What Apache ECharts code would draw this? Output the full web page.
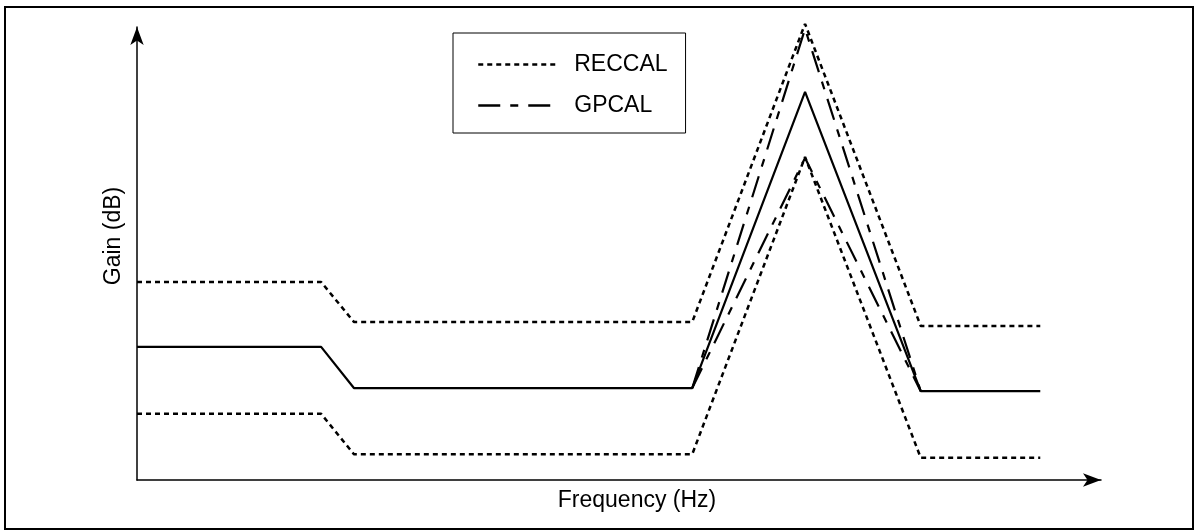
<!DOCTYPE html>
<html>
<head>
<meta charset="utf-8">
<title>Gain vs Frequency</title>
<script src="https://cdn.jsdelivr.net/npm/echarts@6/dist/echarts.min.js"></script>
<style>
	html, body { margin: 0; padding: 0; background: #fff; }
	#main { width: 1198px; height: 531px; }
</style>
</head>
<body>
<div id="main"></div>
<script>
	// break points along the frequency axis (arbitrary units, 0..100)
	var freq = [0, 19.1, 22.5, 57.6, 69.3, 81.3, 93.7];
	// nominal response (solid)
	var nominalGain = [29.4, 29.4, 20.3, 20.3, 85.7, 19.6, 19.6];
	// RECCAL tolerance limits (dotted)
	var reccalUpper = [43.7, 43.7, 34.9, 34.9, 100.7, 34.0, 34.0];
	var reccalLower = [14.6, 14.6, 5.7, 5.7, 71.3, 4.9, 4.9];
	// GPCAL limits only around the peak (dash-dot)
	var gpcalFreq = [57.6, 69.3, 81.3];
	var gpcalUpper = [20.3, 99.6, 19.6];
	var gpcalLower = [20.3, 71.1, 19.6];

	var font = "'Liberation Sans', Arial, sans-serif";
	var dotted = [5, 4];
	var dashDot = [22, 10, 8, 10];

	function pairs(xs, ys) {
		return xs.map(function (x, i) { return [x, ys[i]]; });
	}

	function line(name, xs, ys, type, width) {
		return {
			name: name,
			type: 'line',
			data: pairs(xs, ys),
			symbol: 'none',
			clip: false,
			silent: true,
			itemStyle: { color: '#000' },
			lineStyle: { color: '#000', width: width, type: type }
		};
	}

	var myChart = echarts.init(document.getElementById('main'));

	var option = {
		animation: false,
		backgroundColor: '#fff',
		graphic: [{
			type: 'rect',
			shape: { x: 5, y: 7, width: 1188, height: 522 },
			style: { fill: 'none', stroke: '#000', lineWidth: 2 },
			silent: true
		}],
		legend: {
			data: ['RECCAL', 'GPCAL'],
			orient: 'vertical',
			left: 453,
			top: 33,
			padding: [20, 18, 16, 24],
			itemWidth: 80,
			itemHeight: 14,
			itemGap: 18,
			borderColor: '#000',
			borderWidth: 1,
			borderRadius: 0,
			selectedMode: false,
			itemStyle: { opacity: 0 },
			lineStyle: { width: 2.5, color: '#000' },
			textStyle: { color: '#000', fontSize: 23, fontFamily: font, padding: [0, 0, 0, 11] }
		},
		grid: {
			left: 137,
			right: 97,
			top: 27,
			bottom: 51
		},
		xAxis: {
			type: 'value',
			min: 0,
			max: 100,
			name: 'Frequency (Hz)',
			nameLocation: 'middle',
			nameGap: 9,
			nameTextStyle: { color: '#000', fontSize: 23, fontFamily: font, padding: [0, 0, 0, 36] },
			axisLine: {
				show: true,
				symbol: ['none', 'arrow'],
				symbolSize: [10, 18],
				lineStyle: { color: '#000', width: 1.5 }
			},
			axisTick: { show: false },
			axisLabel: { show: false },
			splitLine: { show: false }
		},
		yAxis: {
			type: 'value',
			min: 0,
			max: 100,
			name: 'Gain (dB)',
			nameLocation: 'middle',
			nameGap: 12,
			nameTextStyle: { color: '#000', fontSize: 23, fontFamily: font, padding: [0, 0, 0, 35] },
			axisLine: {
				show: true,
				symbol: ['none', 'arrow'],
				symbolSize: [10, 18],
				lineStyle: { color: '#000', width: 1.5 }
			},
			axisTick: { show: false },
			axisLabel: { show: false },
			splitLine: { show: false }
		},
		series: [
			line('RECCAL', freq, reccalUpper, dotted, 2.5),
			line('RECCAL', freq, reccalLower, dotted, 2.5),
			line('Nominal', freq, nominalGain, 'solid', 2.2),
			line('GPCAL', gpcalFreq, gpcalUpper, dashDot, 2.2),
			line('GPCAL', gpcalFreq, gpcalLower, dashDot, 2.2)
		]
	};
	myChart.setOption(option);
	window.addEventListener("resize", function () {
		myChart.resize();
	});
</script>
</body>
</html>
